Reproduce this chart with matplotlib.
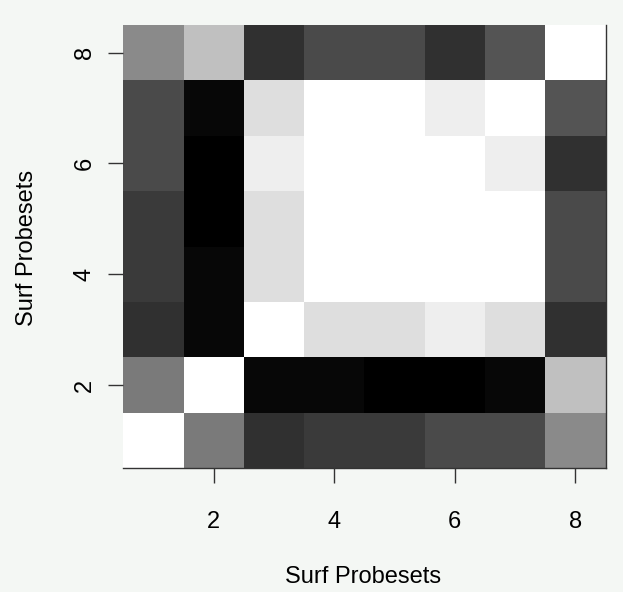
import matplotlib
matplotlib.use("Agg")
import matplotlib.pyplot as plt
import numpy as np

# similarity between the 8 surf probesets (1 = white, 0 = black)
PROBESETS = [1, 2, 3, 4, 5, 6, 7, 8]
ROW_1 = [1.00, 0.48, 0.19, 0.23, 0.23, 0.29, 0.29, 0.54]
ROW_2 = [0.48, 1.00, 0.03, 0.03, 0.00, 0.00, 0.03, 0.75]
ROW_3 = [0.19, 0.03, 1.00, 0.87, 0.87, 0.93, 0.87, 0.19]
ROW_4 = [0.23, 0.03, 0.87, 1.00, 1.00, 1.00, 1.00, 0.29]
ROW_5 = [0.23, 0.00, 0.87, 1.00, 1.00, 1.00, 1.00, 0.29]
ROW_6 = [0.29, 0.00, 0.93, 1.00, 1.00, 1.00, 0.93, 0.19]
ROW_7 = [0.29, 0.03, 0.87, 1.00, 1.00, 0.93, 1.00, 0.33]
ROW_8 = [0.54, 0.75, 0.19, 0.29, 0.29, 0.19, 0.33, 1.00]
TICKS = [2, 4, 6, 8]

BG = '#f4f7f4'
matrix = np.array([ROW_1, ROW_2, ROW_3, ROW_4, ROW_5, ROW_6, ROW_7, ROW_8])
edges = np.arange(0.5, len(PROBESETS) + 1, 1)

fig = plt.figure(figsize=(6.23, 5.92), dpi=100, facecolor=BG)
ax = fig.add_axes([0.198, 0.209, 0.774, 0.749])
ax.set_facecolor(BG)
ax.pcolormesh(edges, edges, matrix, cmap='gray', vmin=0, vmax=1)
ax.set_xlim(0.5, 8.5)
ax.set_ylim(0.5, 8.5)

for side in ['left', 'top']:
    ax.spines[side].set_visible(False)
for side in ['bottom', 'right']:
    ax.spines[side].set_color('#333333')
    ax.spines[side].set_linewidth(1.0)

ax.set_xticks(TICKS)
ax.set_yticks(TICKS)
ax.tick_params(axis='x', length=11, width=1, color='#333333', pad=20, labelsize=17)
ax.tick_params(axis='y', length=11, width=1, color='#333333', pad=9, labelsize=17)
for lab in ax.get_yticklabels():
    lab.set_rotation(90)
    lab.set_va('center')
for lab in ax.get_xticklabels() + ax.get_yticklabels():
    lab.set_family('Liberation Sans')

fig.text(363 / 623, 1 - 577 / 592, 'Surf Probesets', ha='center', va='center',
         fontsize=17, family='Liberation Sans')
fig.text(27 / 623, 1 - 248 / 592, 'Surf Probesets', ha='center', va='center',
         rotation=90, fontsize=17, family='Liberation Sans')

fig.savefig('out.png', dpi=100, facecolor=BG)
